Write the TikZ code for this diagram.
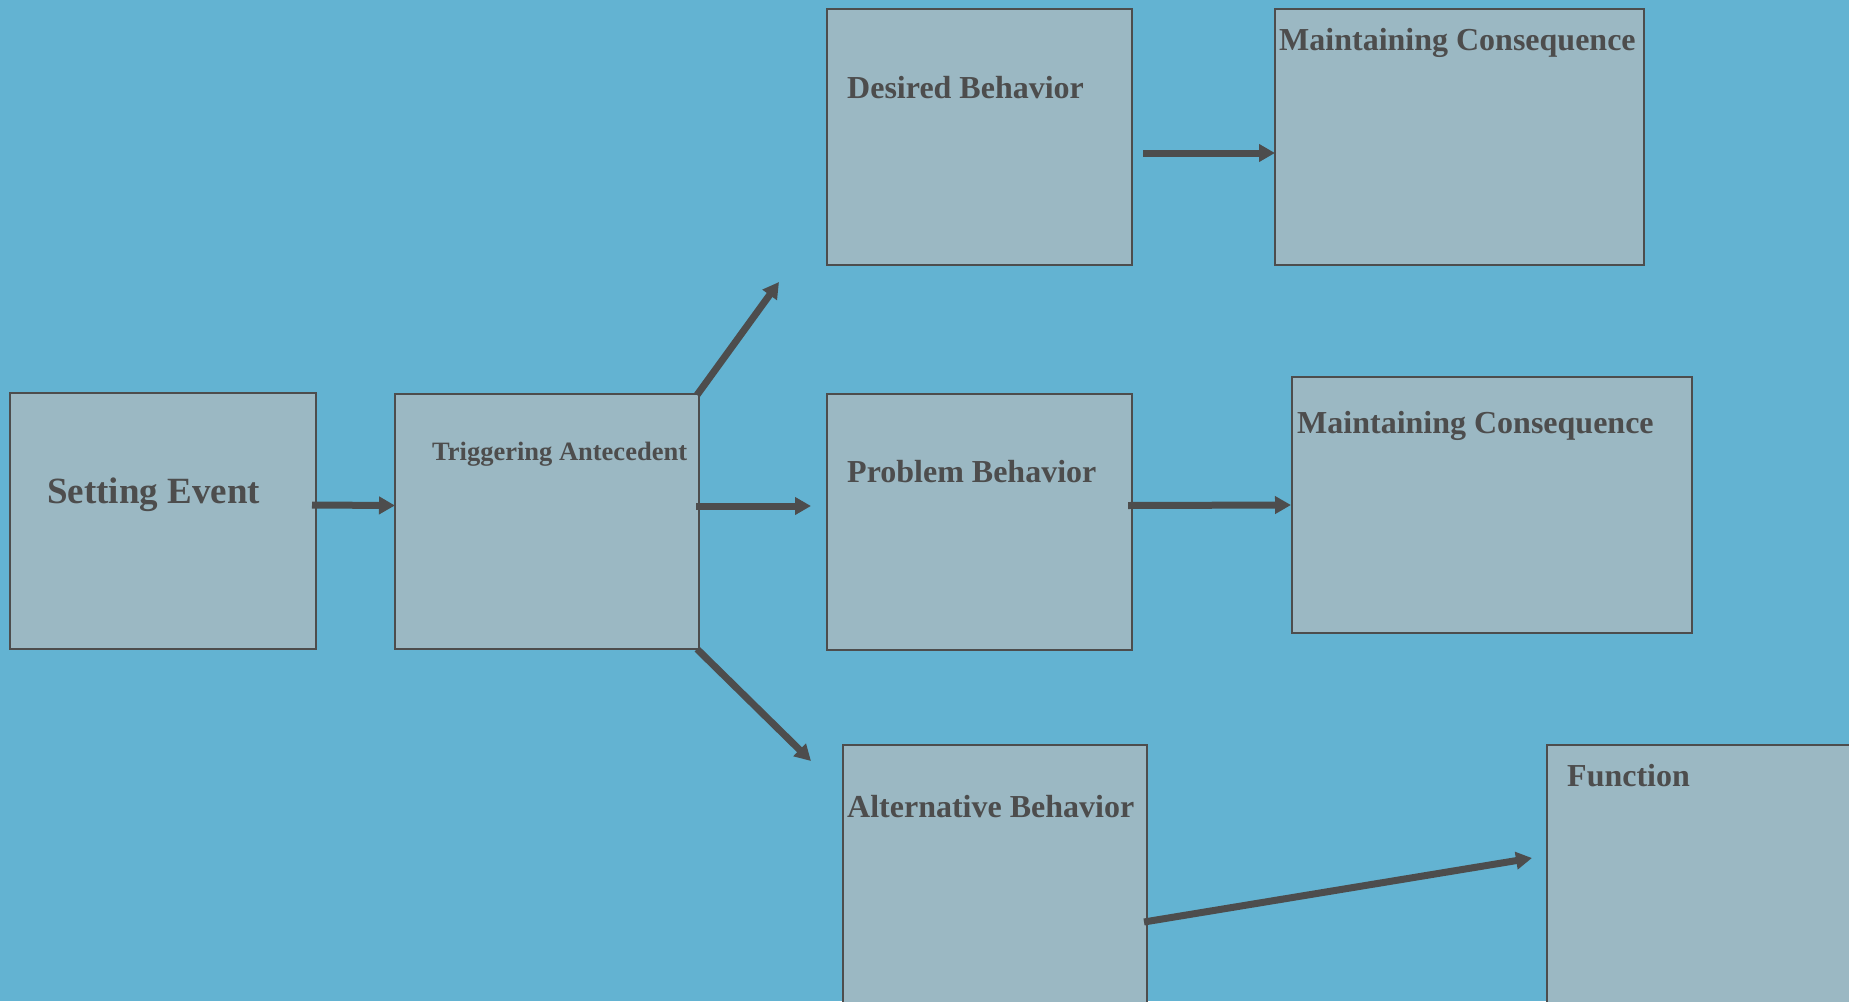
\documentclass[tikz,border=0pt]{standalone}
\usepackage{fontspec}
\setmainfont{Liberation Serif}
\usetikzlibrary{arrows.meta, positioning}

\definecolor{bgblue}{HTML}{63B3D2}
\definecolor{boxgray}{HTML}{9BB8C3}
\definecolor{inkgray}{HTML}{4D4D4D}

\begin{document}
\begin{tikzpicture}[x=1pt, y=-1pt,
    box/.style={draw=inkgray, line width=2.5pt, fill=boxgray, inner sep=0pt,
        outer sep=0pt, anchor=north west, minimum width=305pt, minimum height=256pt},
    boxlabel/.style={anchor=base west, inner sep=0pt, text=inkgray,
        font=\bfseries\fontsize{32}{38}\selectfont},
    flow/.style={draw=inkgray, line width=7pt, -{Triangle[length=16pt, width=17pt]}}]

    % Background
    \fill[bgblue] (0,0) rectangle (1849,1001);
    \useasboundingbox (0,0) rectangle (1849,1001);
    \clip (0,0) rectangle (1849,1001);

    % Boxes
    \node[box, minimum width=306pt] (setting) at (10,393) {};
    \node[box, minimum width=304pt, minimum height=255pt] (trigger) at (395,394) {};
    \node[box] (desired) at (827,9) {};
    \node[box, minimum width=369pt] (maintainA) at (1275,9) {};
    \node[box] (problem) at (827,394) {};
    \node[box, minimum width=400pt] (maintainB) at (1292,377) {};
    \node[box, minimum width=304pt, minimum height=280pt] (alternative) at (843,745) {};
    \node[box, minimum width=340pt, minimum height=280pt] (function) at (1547,745) {};

    % Labels
    \node[boxlabel, font=\bfseries\fontsize{37}{44}\selectfont] (settingtxt) at (47,503) {Setting Event};
    \node[boxlabel, font=\bfseries\fontsize{26.5}{32}\selectfont] (triggertxt) at (432,460) {Triggering Antecedent};
    \node[boxlabel] (desiredtxt) at (847,98) {Desired Behavior};
    \node[boxlabel] (maintainAtxt) at (1279,50) {Maintaining Consequence};
    \node[boxlabel] (problemtxt) at (847,482) {Problem Behavior};
    \node[boxlabel] (maintainBtxt) at (1297,433) {Maintaining Consequence};
    \node[boxlabel] (alternativetxt) at (847,817) {Alternative Behavior};
    \node[boxlabel] (functiontxt) at (1567,786) {Function};

    % Free arrow ends
    \coordinate (uptip) at (779,282);
    \coordinate (midtip) at (811,506);
    \coordinate (downtip) at (811,761);
    \coordinate (functip) at (1532,858);

    % Arrows
    \draw[flow] ([shift={(-4pt,16pt)}]setting.east) -- ([yshift=16pt]trigger.west);
    \draw[flow] ([shift={(-2pt,-1pt)}]trigger.north east) -- (uptip);
    \draw[flow] ([shift={(-3pt,15.5pt)}]trigger.east) -- (midtip);
    \draw[flow] ([xshift=-2pt]trigger.south east) -- (downtip);
    \draw[flow] ([shift={(11pt,-16pt)}]desired.east) -- ([yshift=-16pt]maintainA.west);
    \draw[flow] ([shift={(-4pt,16.5pt)}]problem.east) -- ([xshift=-1pt]maintainB.west);
    \draw[flow] ([shift={(-3pt,-177pt)}]alternative.north east) -- (functip);
\end{tikzpicture}
\end{document}
